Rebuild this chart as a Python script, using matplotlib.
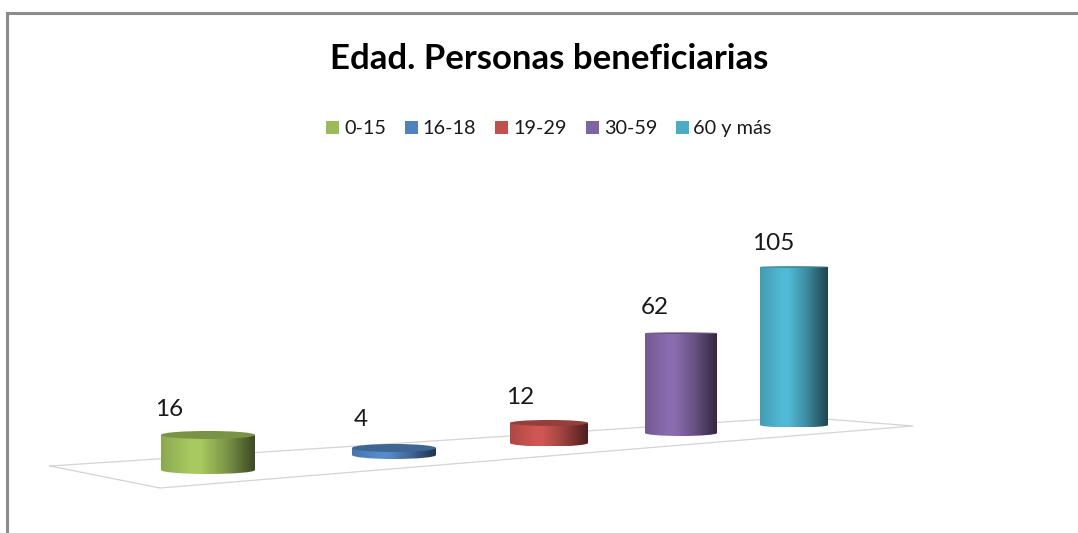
import numpy as np
import matplotlib
matplotlib.use('Agg')
import matplotlib.pyplot as plt
from matplotlib.path import Path
from matplotlib.patches import PathPatch, Ellipse, Rectangle

plt.rcParams['font.family'] = ['Lato', 'DejaVu Sans']

# Chart data
categories = ['0-15', '16-18', '19-29', '30-59', '60 y más']
values = [16, 4, 12, 62, 105]
colors = ['#9BBB59', '#4F81BD', '#C0504D', '#8064A2', '#4BACC6']
title = 'Edad. Personas beneficiarias'

# Perspective of the fake 3D floor, one entry per cylinder (pixels)
left_edge = [161, 352, 510, 645, 760]
right_edge = [255, 436, 588, 717, 828]
base_y = [470, 455, 443, 433, 425]
px_per_unit = [2.19, 1.75, 1.67, 1.61, 1.505]
bottom_ry = [4, 4, 3.5, 3, 2.5]
top_ry = [4, 4, 3, 0.8, 0.8]
label_x = [169, 361, 520, 655, 773]
label_y = [409, 420, 397, 308, 243]
legend_box_x = [326, 405, 495, 586, 676]
legend_text_x = [344, 422, 513, 604, 693]

fig = plt.figure(figsize=(10.78, 5.33), dpi=100)
ax = fig.add_axes([0, 0, 1, 1])

# Frame of the pasted chart, only top and left are visible
ax.plot([7, 7, 1078], [533, 13, 13], color='#8c8c8c', lw=2.2, solid_joinstyle='miter')

# Floor of the chart
floor_x = [50, 160, 913, 800, 50]
floor_y = [466, 488, 426, 417, 466]
ax.plot(floor_x, floor_y, color='#d4d4d4', lw=0.9)

# Horizontal shading used on every cylinder
shade_pos = [0.0, 0.32, 0.42, 0.68, 0.88, 1.0]
shade_amt = [0.90, 1.08, 1.08, 0.82, 0.55, 0.40]
t = np.linspace(0, 1, 200)
shade = np.interp(t, shade_pos, shade_amt)

for i in range(len(values)):
    x0, x1 = left_edge[i], right_edge[i]
    xc = (x0 + x1) / 2
    rx = (x1 - x0) / 2
    y_bot = base_y[i]
    y_top = y_bot - values[i] * px_per_unit[i]
    rb = bottom_ry[i]

    base = np.array(matplotlib.colors.to_rgb(colors[i]))
    grad = np.clip(shade[:, None] * base, 0, 1)[None, :, :]

    # body outline: straight sides plus the curved lower edge
    k = 0.5523
    verts = [(x0, y_top), (x0, y_bot),
             (x0, y_bot + rb * k), (xc - rx * k, y_bot + rb), (xc, y_bot + rb),
             (xc + rx * k, y_bot + rb), (x1, y_bot + rb * k), (x1, y_bot),
             (x1, y_top), (x0, y_top)]
    codes = [Path.MOVETO, Path.LINETO, Path.CURVE4, Path.CURVE4, Path.CURVE4,
             Path.CURVE4, Path.CURVE4, Path.CURVE4, Path.LINETO, Path.CLOSEPOLY]
    body = PathPatch(Path(verts, codes), facecolor='none', edgecolor='none')
    ax.add_patch(body)
    im = ax.imshow(grad, extent=[x0, x1, y_bot + rb, y_top], aspect='auto', zorder=3)
    im.set_clip_path(body)

    # lid
    ax.add_patch(Ellipse((xc, y_top), x1 - x0, top_ry[i] * 2,
                         facecolor=base * 0.78, edgecolor='none', zorder=4))

    ax.text(label_x[i], label_y[i], str(values[i]), ha='center', va='center',
            fontsize=17.5, color='#1a1a1a')

    # legend entry
    ax.add_patch(Rectangle((legend_box_x[i], 121), 13, 13, facecolor=colors[i],
                           edgecolor='none'))
    ax.text(legend_text_x[i], 128.5, categories[i], ha='left', va='center',
            fontsize=14.3, color='#1a1a1a')

ax.text(549, 59, title, ha='center', va='center', fontsize=25, fontweight='bold',
        color='black')

ax.set_xlim(0, 1078)
ax.set_ylim(533, 0)
ax.axis('off')

fig.savefig('out.png', dpi=100)
